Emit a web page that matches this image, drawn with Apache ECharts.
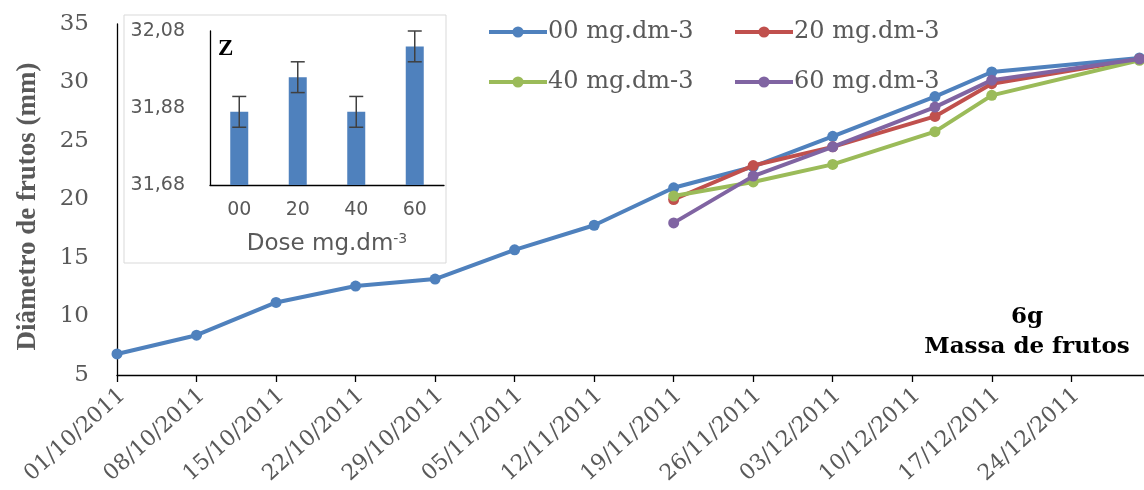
<!DOCTYPE html>
<html><head><meta charset="utf-8">
<script src="https://cdn.jsdelivr.net/npm/echarts@6/dist/echarts.min.js"></script>
<style>html,body{margin:0;padding:0;background:#fff}#c{width:1144px;height:490px}</style>
</head><body><div id="c"></div>
<script>
// ---- data ----
const seriesNames = ['00 mg.dm-3', '20 mg.dm-3', '40 mg.dm-3', '60 mg.dm-3'];
const dates00 = ['01/10/2011','08/10/2011','15/10/2011','22/10/2011','29/10/2011','05/11/2011','12/11/2011','19/11/2011','26/11/2011','03/12/2011','12/12/2011','17/12/2011','30/12/2011'];
const values00 = [6.8, 8.4, 11.2, 12.6, 13.2, 15.7, 17.8, 21.0, 22.8, 25.4, 28.8, 30.9, 32.1];
const dates20 = ['19/11/2011','26/11/2011','03/12/2011','12/12/2011','17/12/2011','30/12/2011'];
const values20 = [20.0, 22.9, 24.5, 27.1, 29.9, 32.0];
const dates40 = ['19/11/2011','26/11/2011','03/12/2011','12/12/2011','17/12/2011','30/12/2011'];
const values40 = [20.3, 21.5, 23.0, 25.8, 28.9, 31.9];
const dates60 = ['19/11/2011','26/11/2011','03/12/2011','12/12/2011','17/12/2011','30/12/2011'];
const values60 = [18.0, 22.0, 24.5, 27.9, 30.2, 32.0];
const xTickLabels = ['01/10/2011','08/10/2011','15/10/2011','22/10/2011','29/10/2011','05/11/2011','12/11/2011','19/11/2011','26/11/2011','03/12/2011','10/12/2011','17/12/2011','24/12/2011'];
const insetCategories = ['00', '20', '40', '60'];
const insetMeans = [31.87, 31.96, 31.87, 32.04];
const insetErrors = [0.04, 0.04, 0.04, 0.04];

// ---- helpers ----
function dayOf(s) {
  const p = s.split('/').map(Number);
  return Math.round((Date.UTC(p[2], p[1] - 1, p[0]) - Date.UTC(2011, 9, 1)) / 86400000);
}
const tickDays = xTickLabels.map(dayOf);
const labelByDay = {};
xTickLabels.forEach((l, i) => { labelByDay[tickDays[i]] = l; });
const colors = ['#4F81BD', '#C0504D', '#9BBB59', '#8064A2'];
const allDates = [dates00, dates20, dates40, dates60];
const allValues = [values00, values20, values40, values60];

const serif = 'DejaVu Serif';
const gray = '#595959';

const lineSeries = seriesNames.map((n, k) => ({
  name: n, type: 'line', xAxisIndex: 0, yAxisIndex: 0,
  data: allDates[k].map((d, i) => [dayOf(d), allValues[k][i]]),
  symbol: 'circle', symbolSize: 11,
  lineStyle: { width: 4, color: colors[k] },
  itemStyle: { color: colors[k] },
  z: 3 + k
}));

const legendPos = [[482, 15], [728, 15], [482, 65], [728, 65]];
const legends = seriesNames.map((n, k) => ({
  data: [n], left: legendPos[k][0], top: legendPos[k][1],
  itemWidth: 58, itemHeight: 14, itemGap: 0,
  lineStyle: { width: 4 },
  textStyle: { fontFamily: serif, fontSize: 24, color: gray, padding: [0, 0, 0, -4] }
}));

const option = {
  animation: false,
  backgroundColor: '#fff',
  legend: legends,
  grid: [
    { left: 117, right: 0, top: 24, bottom: 115, containLabel: false, outerBoundsMode: 'none' },
    { left: 210, top: 31, width: 234, height: 154, containLabel: false, outerBoundsMode: 'none' }
  ],
  xAxis: [
    {
      type: 'value', min: 0, max: 90.4, gridIndex: 0,
      axisLine: { show: true, lineStyle: { color: '#000', width: 1.3 } },
      axisTick: { show: true, customValues: tickDays, length: 7, lineStyle: { color: '#000', width: 1.3 } },
      axisLabel: {
        customValues: tickDays, rotate: 42, margin: 22,
        formatter: v => labelByDay[v] || '',
        fontFamily: serif, fontSize: 22, color: gray, padding: [0, -7, 0, 0]
      },
      splitLine: { show: false }
    },
    {
      type: 'category', gridIndex: 1, data: insetCategories,
      axisLine: { show: true, lineStyle: { color: '#000', width: 1.3 } },
      axisTick: { show: false },
      axisLabel: { fontFamily: 'DejaVu Sans', fontSize: 19, color: gray, margin: 16 },
      name: '{a|Dose mg.dm}{s|-3}', nameLocation: 'middle', nameGap: 47,
      nameTextStyle: {
        rich: {
          a: { fontFamily: 'DejaVu Sans', fontSize: 23, color: gray },
          s: { fontFamily: 'DejaVu Sans', fontSize: 14, color: gray, verticalAlign: 'top', padding: [0, 0, 10, 0] }
        }
      }
    }
  ],
  yAxis: [
    {
      type: 'value', min: 5, max: 35, interval: 5, gridIndex: 0,
      axisLine: { show: true, lineStyle: { color: '#000', width: 1.3 } },
      axisTick: { show: false },
      axisLabel: { fontFamily: serif, fontSize: 23, color: gray, margin: 28 },
      splitLine: { show: false },
      name: 'Diâmetro de frutos (mm)', nameLocation: 'middle', nameGap: 75,
      nameTextStyle: { fontFamily: 'Liberation Serif', fontWeight: 'bold', fontSize: 27, color: gray, padding: [0, 14, 0, 0] }
    },
    {
      type: 'value', min: 31.68, max: 32.08, interval: 0.2, gridIndex: 1,
      axisLine: { show: true, lineStyle: { color: '#000', width: 1.3 } },
      axisTick: { show: false },
      axisLabel: { fontFamily: 'DejaVu Sans', fontSize: 19, color: gray, margin: 25,
        formatter: v => v.toFixed(2).replace('.', ',') },
      splitLine: { show: false }
    }
  ],
  graphic: {
    elements: [
      { type: 'rect', z: -10, shape: { x: 124, y: 15, width: 322, height: 248 },
        style: { fill: '#fff', stroke: '#D9D9D9', lineWidth: 1 } },
      { type: 'text', left: 218, top: 38, style: { text: 'Z', fontFamily: 'Liberation Serif', fontWeight: 'bold', fontSize: 23, fill: '#000' } },
      { type: 'text', x: 1027, y: 317, style: { text: '6g', fontFamily: serif, fontWeight: 'bold', fontSize: 23, fill: '#000', align: 'center', verticalAlign: 'middle' } },
      { type: 'text', x: 1027, y: 347, style: { text: 'Massa de frutos', fontFamily: serif, fontWeight: 'bold', fontSize: 23, fill: '#000', align: 'center', verticalAlign: 'middle' } }
    ]
  },
  series: lineSeries.concat([
    {
      type: 'bar', xAxisIndex: 1, yAxisIndex: 1, data: insetMeans,
      barWidth: 18, itemStyle: { color: '#4F81BD' }, z: 2
    },
    {
      type: 'custom', xAxisIndex: 1, yAxisIndex: 1, clip: false, z: 5,
      data: insetCategories.map((c, i) => [i, insetMeans[i], insetErrors[i]]),
      encode: { x: 0, y: 1 },
      renderItem: function (params, api) {
        const i = api.value(0), m = api.value(1), e = api.value(2);
        const top = api.coord([i, m + e]);
        const bot = api.coord([i, m - e]);
        const w = 7;
        const st = { stroke: '#404040', lineWidth: 1.5 };
        return { type: 'group', children: [
          { type: 'line', shape: { x1: top[0], y1: top[1], x2: bot[0], y2: bot[1] }, style: st },
          { type: 'line', shape: { x1: top[0] - w, y1: top[1], x2: top[0] + w, y2: top[1] }, style: st },
          { type: 'line', shape: { x1: bot[0] - w, y1: bot[1], x2: bot[0] + w, y2: bot[1] }, style: st }
        ] };
      }
    }
  ])
};
const chart = echarts.init(document.getElementById('c'), null, { renderer: 'canvas' });
chart.setOption(option);
</script>
</body></html>
